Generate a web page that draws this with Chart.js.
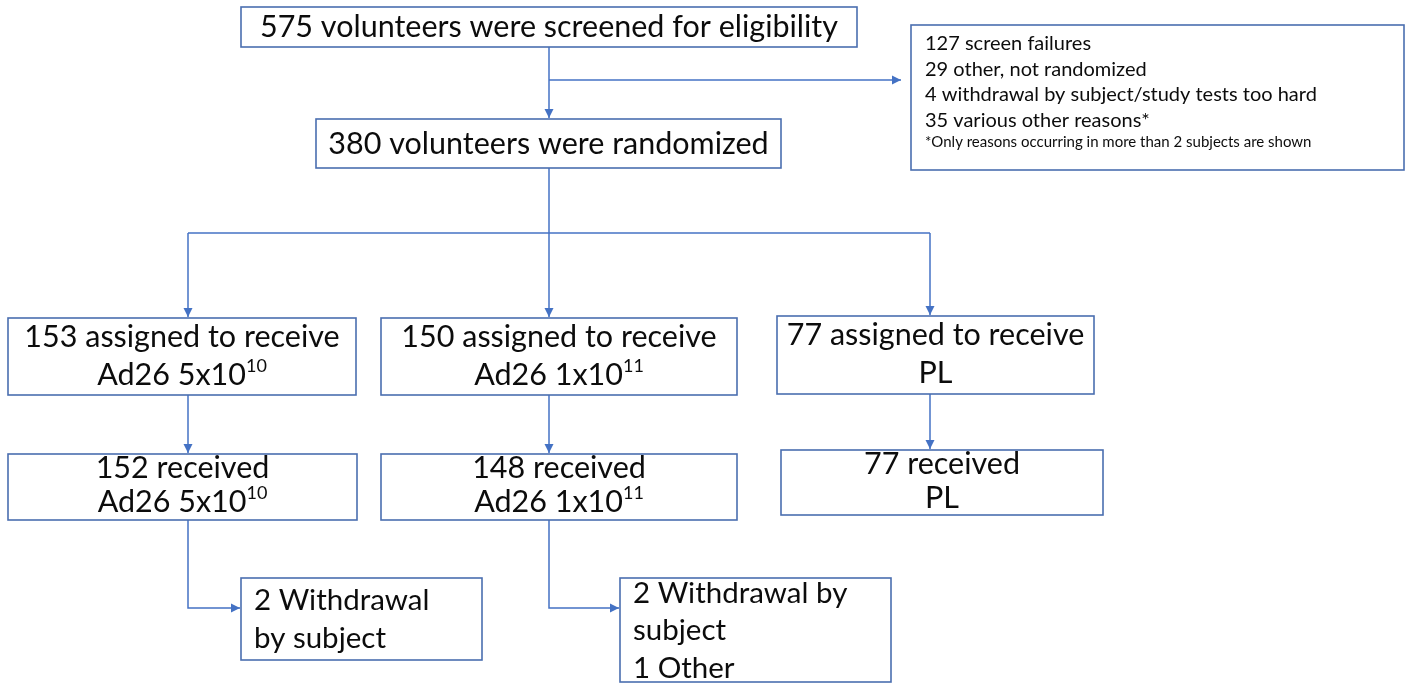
<!DOCTYPE html>
<html>
<head>
<meta charset="utf-8">
<script src="https://cdn.jsdelivr.net/npm/chart.js@4"></script>
<style>
  html, body { margin: 0; padding: 0; background: #fff; }
  #wrap { width: 1410px; height: 683px; }
</style>
</head>
<body>
<div id="wrap"><canvas id="flow" width="1410" height="683"></canvas></div>
<script>
// counts
const screened = 575;
const randomized = 380;
const excludedCounts = [127, 29, 4, 35];
const excludedReasons = ['screen failures', 'other, not randomized', 'withdrawal by subject/study tests too hard', 'various other reasons*'];
const excludedNote = '*Only reasons occurring in more than 2 subjects are shown';
const armNames = [['Ad26 5x10', '10'], ['Ad26 1x10', '11'], ['PL', '']];
const assigned = [153, 150, 77];
const received = [152, 148, 77];
const withdrawnBySubject = [2, 2];
const otherReasons = [0, 1];

// layout in diagram units (0..1410 across, 0..683 down)
const layout = {
  screen: { x0: 241, x1: 857, y0: 7, y1: 47 },
  rand: { x0: 316, x1: 781, y0: 119, y1: 168 },
  excl: { x0: 911, x1: 1404, y0: 25, y1: 170 },
  assigned: [
    { x0: 8, x1: 356, y0: 318, y1: 395 },
    { x0: 381, x1: 737, y0: 318, y1: 395 },
    { x0: 777, x1: 1094, y0: 316, y1: 394 }
  ],
  received: [
    { x0: 8, x1: 357, y0: 454, y1: 520 },
    { x0: 381, x1: 737, y0: 454, y1: 520 },
    { x0: 781, x1: 1103, y0: 450, y1: 515 }
  ],
  withdrawn: [
    { x0: 241, x1: 482, y0: 578, y1: 660 },
    { x0: 620, x1: 891, y0: 578, y1: 682 }
  ],
  armX: [188, 549, 930],
  trunkX: 549,
  exclY: 80,
  splitY: 233,
  elbowY: 608
};

const lineColor = '#4472C4';
const boxColor = '#4a6eb0';
const textColor = '#0c0c0c';
const fontFamily = 'Lato, "Open Sans", sans-serif';

const flowPlugin = {
  id: 'flow',
  afterDraw(chart) {
    const ctx = chart.ctx;
    const sx = chart.scales.x, sy = chart.scales.y;
    const px = v => sx.getPixelForValue(v);
    const py = v => sy.getPixelForValue(v);

    function box(b) {
      ctx.save();
      ctx.strokeStyle = boxColor;
      ctx.lineWidth = 1.6;
      ctx.strokeRect(px(b.x0), py(b.y0), px(b.x1) - px(b.x0), py(b.y1) - py(b.y0));
      ctx.restore();
    }
    function text(str, sup, x, y, size, align) {
      ctx.save();
      ctx.fillStyle = textColor;
      ctx.textBaseline = 'middle';
      ctx.textAlign = 'left';
      ctx.font = size + 'px ' + fontFamily;
      const w = ctx.measureText(str).width;
      const supSize = Math.round(size * 0.6);
      ctx.font = supSize + 'px ' + fontFamily;
      const ws = sup ? ctx.measureText(sup).width : 0;
      let left = px(x);
      if (align === 'center') left -= (w + ws) / 2;
      ctx.font = size + 'px ' + fontFamily;
      ctx.fillText(str, left, py(y));
      if (sup) {
        ctx.font = supSize + 'px ' + fontFamily;
        ctx.fillText(sup, left + w, py(y) - size * 0.3);
      }
      ctx.restore();
    }
    function path(pts, arrow) {
      ctx.save();
      ctx.strokeStyle = lineColor;
      ctx.fillStyle = lineColor;
      ctx.lineWidth = 1.5;
      ctx.beginPath();
      pts.forEach((p, i) => i ? ctx.lineTo(px(p[0]), py(p[1])) : ctx.moveTo(px(p[0]), py(p[1])));
      ctx.stroke();
      if (arrow) {
        const a = pts[pts.length - 2], b = pts[pts.length - 1];
        const ang = Math.atan2(py(b[1]) - py(a[1]), px(b[0]) - px(a[0]));
        const tx = px(b[0]), ty = py(b[1]);
        ctx.beginPath();
        ctx.moveTo(tx, ty);
        ctx.lineTo(tx - 9 * Math.cos(ang) + 4.5 * Math.sin(ang), ty - 9 * Math.sin(ang) - 4.5 * Math.cos(ang));
        ctx.lineTo(tx - 9 * Math.cos(ang) - 4.5 * Math.sin(ang), ty - 9 * Math.sin(ang) + 4.5 * Math.cos(ang));
        ctx.closePath();
        ctx.fill();
      }
      ctx.restore();
    }
    const L = layout;

    // connectors
    path([[L.trunkX, L.screen.y1], [L.trunkX, L.rand.y0 - 1]], true);
    path([[L.trunkX, L.exclY], [L.excl.x0 - 10, L.exclY]], true);
    path([[L.trunkX, L.rand.y1], [L.trunkX, L.splitY]], false);
    path([[L.armX[0], L.splitY], [L.armX[2], L.splitY]], false);
    L.armX.forEach((ax, i) => {
      path([[ax, L.splitY], [ax, L.assigned[i].y0 - 1]], true);
      path([[ax, L.assigned[i].y1], [ax, L.received[i].y0 - 1]], true);
    });
    L.withdrawn.forEach((b, i) => {
      path([[L.armX[i], L.received[i].y1], [L.armX[i], L.elbowY], [b.x0 - 1, L.elbowY]], true);
    });

    // boxes
    box(L.screen);
    text(screened + ' volunteers were screened for eligibility', '', (L.screen.x0 + L.screen.x1) / 2, 27, 30.5, 'center');
    box(L.rand);
    text(randomized + ' volunteers were randomized', '', (L.rand.x0 + L.rand.x1) / 2, 144, 30.5, 'center');

    box(L.excl);
    excludedCounts.forEach((n, i) => {
      text(n + ' ' + excludedReasons[i], '', 925, 44 + i * 25.5, 20, 'left');
    });
    text(excludedNote, '', 925, 142, 15, 'left');

    assigned.forEach((n, i) => {
      const b = L.assigned[i];
      const cx = (b.x0 + b.x1) / 2;
      box(b);
      text(n + ' assigned to receive', '', cx, b.y0 + 19, 30.5, 'center');
      text(armNames[i][0], armNames[i][1], cx, b.y0 + 57, 30.5, 'center');
    });
    received.forEach((n, i) => {
      const b = L.received[i];
      const cx = (b.x0 + b.x1) / 2;
      box(b);
      text(n + ' received', '', cx, b.y0 + 14, 30.5, 'center');
      text(armNames[i][0], armNames[i][1], cx, b.y0 + 48, 30.5, 'center');
    });

    const wLines = [
      [withdrawnBySubject[0] + ' Withdrawal', 'by subject'],
      [withdrawnBySubject[1] + ' Withdrawal by', 'subject', otherReasons[1] + ' Other']
    ];
    const wStart = [600, 593];
    const wStep = [38, 37.5];
    L.withdrawn.forEach((b, i) => {
      box(b);
      wLines[i].forEach((s, j) => text(s, '', b.x0 + 13, wStart[i] + j * wStep[i], 29.5, 'left'));
    });
  }
};

new Chart(document.getElementById('flow').getContext('2d'), {
  type: 'scatter',
  data: {
    datasets: [{
      label: 'nodes',
      data: [],
      pointRadius: 0
    }]
  },
  options: {
    responsive: false,
    animation: false,
    events: [],
    layout: { padding: 0 },
    plugins: { legend: { display: false }, tooltip: { enabled: false } },
    scales: {
      x: { type: 'linear', min: 0, max: 1410, display: false },
      y: { type: 'linear', min: 0, max: 683, reverse: true, display: false }
    }
  },
  plugins: [flowPlugin]
});
</script>
</body>
</html>
